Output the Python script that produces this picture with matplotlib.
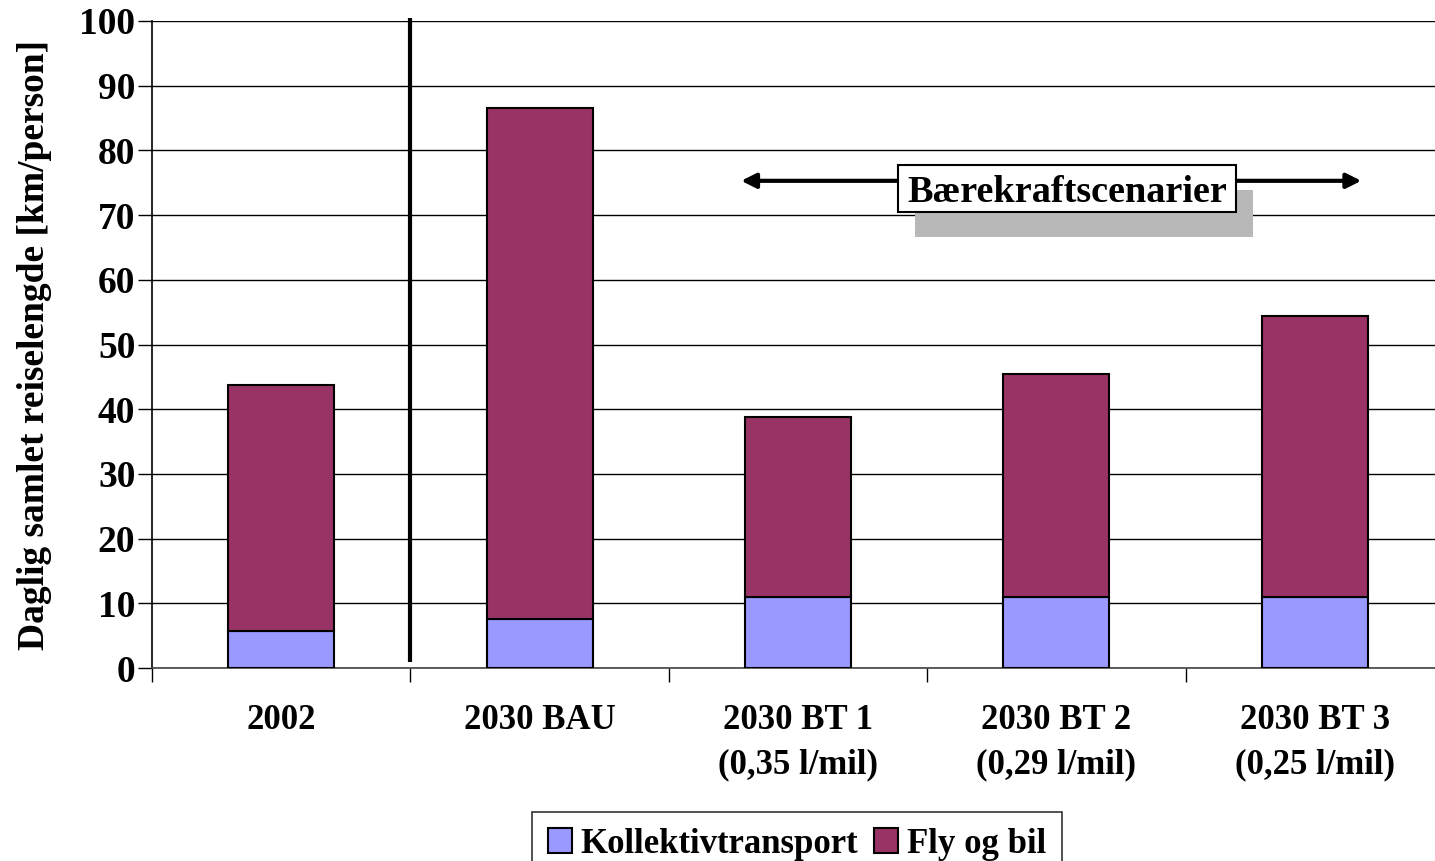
import matplotlib
matplotlib.use("Agg")
import matplotlib.pyplot as plt
from matplotlib.patches import Rectangle
import numpy as np

categories = ["2002", "2030 BAU", "2030 BT 1\n(0,35 l/mil)", "2030 BT 2\n(0,29 l/mil)", "2030 BT 3\n(0,25 l/mil)"]
kollektiv = [5.7, 7.5, 10.9, 10.9, 10.9]
fly_bil = [38.0, 79.1, 27.9, 34.6, 43.5]
yticks = list(range(0, 101, 10))

plt.rcParams['font.family'] = ['Liberation Serif', 'DejaVu Serif']
plt.rcParams['font.weight'] = 'bold'

W, H = 1435, 861
fig = plt.figure(figsize=(W/100, H/100), dpi=100)
left, right = 152/W, 1444/W
bottom, top = 1 - 668/H, 1 - 21/H
ax = fig.add_axes([left, bottom, right-left, top-bottom])

x = np.arange(len(categories))
c1 = '#9999ff'
c2 = '#993366'
ax.bar(x, kollektiv, width=0.41, color=c1, edgecolor='black', linewidth=1.5, label='Kollektivtransport', zorder=3)
ax.bar(x, fly_bil, width=0.41, bottom=kollektiv, color=c2, edgecolor='black', linewidth=1.5, label='Fly og bil', zorder=3)

ax.set_xlim(-0.5, len(categories)-0.5)
ax.set_ylim(0, 100)
ax.set_yticks(yticks)
ax.set_yticklabels([str(t) for t in yticks], fontsize=27, fontweight='bold')
ax.yaxis.grid(True, color='black', linewidth=1.0, zorder=0)
ax.set_axisbelow(True)

ax.set_xticks(np.arange(len(categories)+1) - 0.5)
ax.set_xticklabels([])
ax.set_xticks(x, minor=True)
ax.set_xticklabels(categories, minor=True, fontsize=25, fontweight='bold', linespacing=1.45)
ax.tick_params(axis='x', which='minor', length=0, pad=26)
ax.tick_params(axis='x', which='major', length=10, width=1, direction='out')
ax.tick_params(axis='y', length=10, width=1, direction='out', pad=2)

for s in ['top', 'right']:
    ax.spines[s].set_visible(False)
ax.spines['left'].set_linewidth(1.2)
ax.spines['bottom'].set_linewidth(1.2)
ax.spines['bottom'].set_color('#444444')

ax.set_ylabel('Daglig samlet reiselengde [km/person]', fontsize=27, fontweight='bold', labelpad=20)

# separator line
ax.plot([0.5, 0.5], [1.0, 100.5], color='black', linewidth=3, clip_on=False, zorder=4, solid_capstyle='butt')

# arrow
ax.annotate('', xy=(1.78, 75.3), xytext=(4.18, 75.3),
            arrowprops=dict(arrowstyle='<|-|>', color='black', lw=3, mutation_scale=22, shrinkA=0, shrinkB=0), zorder=5)

# shadow box
bx0, bx1 = (898-152)/258.4 - 0.5, (1236-152)/258.4 - 0.5
by0, by1 = (668-212)/6.47, (668-165)/6.47
dx, dy = 17/258.4, 25/6.47
ax.add_patch(Rectangle((bx0+dx, by0-dy), bx1-bx0, by1-by0, facecolor='#b8b8b8', edgecolor='none', zorder=5))
ax.add_patch(Rectangle((bx0, by0), bx1-bx0, by1-by0, facecolor='white', edgecolor='black', linewidth=1.5, zorder=6))
ax.text((bx0+bx1)/2, (by0+by1)/2 - 0.6, 'Bærekraftscenarier', ha='center', va='center', fontsize=27.5, fontweight='bold', zorder=7)

leg = fig.legend(loc='upper center', bbox_to_anchor=(797/W, 1 - 812/H), ncol=2, frameon=True,
                 fancybox=False, edgecolor='black', handlelength=0.7, handleheight=0.7, handletextpad=0.25,
                 columnspacing=0.45, borderpad=0.45, borderaxespad=0, prop={'weight': 'bold', 'size': 25})
leg.get_frame().set_linewidth(1.2)

fig.savefig('out.png', dpi=100)
